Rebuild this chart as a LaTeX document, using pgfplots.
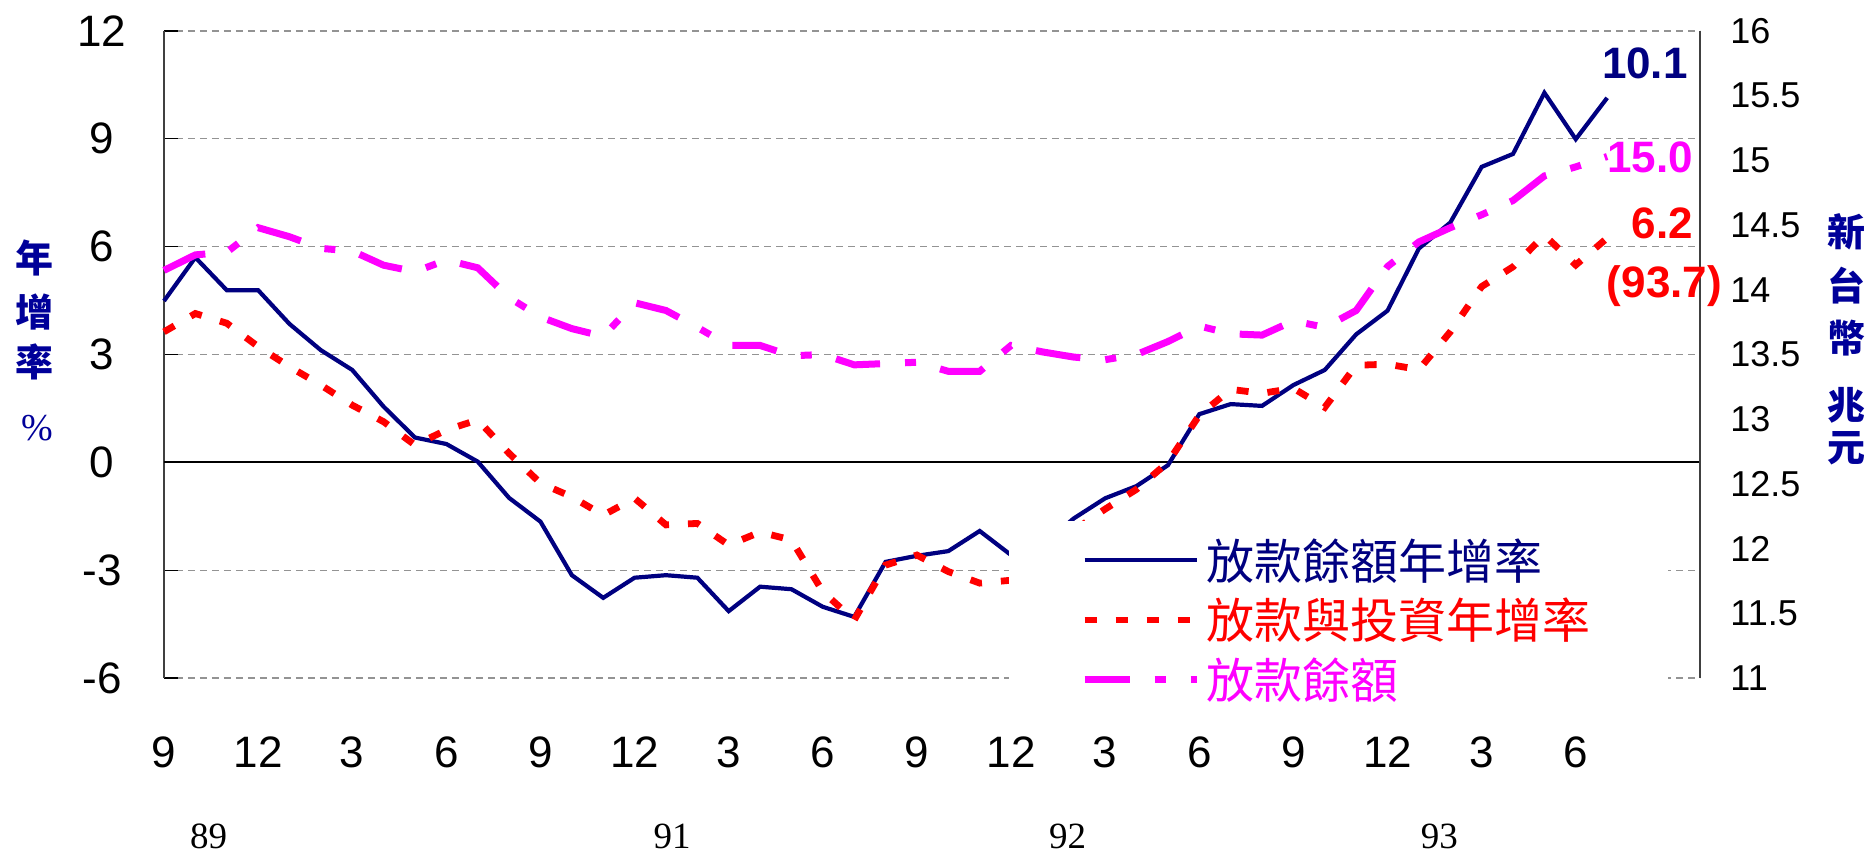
\documentclass[border=0pt]{standalone}
\usepackage{pgfplots}
\pgfplotsset{compat=1.18}
\usepackage{fontspec}
\setmainfont{Liberation Sans}
\newfontfamily\cjk{Noto Sans CJK TC}
\newfontfamily\seriff{Liberation Serif}
\definecolor{navyc}{RGB}{0,0,128}
\definecolor{redc}{RGB}{255,0,0}
\definecolor{magc}{RGB}{255,0,255}
\definecolor{labc}{RGB}{0,0,153}

\pgfplotstableread{
i v
0 4.49
1 5.70
2 4.79
3 4.79
4 3.85
5 3.12
6 2.57
7 1.55
8 0.69
9 0.51
10 0.02
11 -0.99
12 -1.65
13 -3.14
14 -3.77
15 -3.21
16 -3.14
17 -3.21
18 -4.14
19 -3.46
20 -3.53
21 -4.02
22 -4.30
23 -2.77
24 -2.60
25 -2.47
26 -1.91
27 -2.58
28 -2.30
29 -1.56
30 -1.00
31 -0.66
32 -0.08
33 1.34
34 1.62
35 1.57
36 2.15
37 2.57
38 3.56
39 4.22
40 5.95
41 6.67
42 8.22
43 8.58
44 10.28
45 8.99
46 10.14
}\loanrate

\pgfplotstableread{
i v
0 3.63
1 4.14
2 3.87
3 3.22
4 2.66
5 2.15
6 1.59
7 1.13
8 0.48
9 0.90
10 1.18
11 0.25
12 -0.58
13 -0.96
14 -1.47
15 -1.00
16 -1.74
17 -1.70
18 -2.30
19 -1.94
20 -2.16
21 -3.60
22 -4.39
23 -2.86
24 -2.58
25 -3.04
26 -3.36
27 -3.28
28 -2.60
29 -1.90
30 -1.30
31 -0.75
32 0.00
33 1.31
34 2.03
35 1.92
36 2.06
37 1.53
38 2.70
39 2.73
40 2.58
41 3.63
42 4.89
43 5.44
44 6.32
45 5.49
46 6.24
}\invrate

\pgfplotstableread{
i v
0 14.15
1 14.27
2 14.29
3 14.48
4 14.41
5 14.32
6 14.30
7 14.19
8 14.14
9 14.23
10 14.17
11 13.94
12 13.79
13 13.70
14 13.64
15 13.90
16 13.84
17 13.71
18 13.57
19 13.57
20 13.49
21 13.50
22 13.42
23 13.43
24 13.44
25 13.37
26 13.37
27 13.57
28 13.52
29 13.48
30 13.46
31 13.50
32 13.60
33 13.72
34 13.66
35 13.65
36 13.76
37 13.71
38 13.84
39 14.18
40 14.37
41 14.48
42 14.58
43 14.69
44 14.88
45 14.95
46 15.03
}\loanbal

\begin{document}
\begin{tikzpicture}
\begin{axis}[
  at={(0,0)}, anchor=south west,
  scale only axis, width=768pt, height=323.5pt,
  xmin=0, xmax=48.96, ymin=-6, ymax=12,
  axis x line*=bottom, axis y line*=left,
  x axis line style={draw=none},
  y axis line style={black!75, line width=0.6pt},
  xtick={0,3,...,45},
  xticklabels={9,12,3,6,9,12,3,6,9,12,3,6,9,12,3,6},
  xtick style={draw=none},
  xticklabel style={font=\fontsize{22}{22}\selectfont, anchor=center, yshift=-37pt},
  ytick={-6,-3,3,6,9,12},
  yticklabels={-6,-3,3,6,9,12},
  extra y ticks={0}, extra y tick labels={0},
  extra y tick style={major grid style={solid, black, line width=1.1pt}},
  yticklabel style={font=\fontsize{22}{22}\selectfont, anchor=center, xshift=-31pt},
  tick align=inside, major tick length=7pt,
  major tick style={black, line width=0.6pt},
  ymajorgrids,
  major grid style={gray!85, line width=0.6pt, dash pattern=on 3.5pt off 2.5pt},
  clip=false,
]
\addplot[navyc, line width=2.1pt] table[x=i, y=v] {\loanrate};
\addplot[redc, line width=3.4pt, dash pattern=on 6pt off 9.5pt] table[x=i, y=v] {\invrate};

\node[font=\cjk\bfseries\fontsize{19}{19}\selectfont, text=labc] at (axis cs:-4.14,5.68) {年};
\node[font=\cjk\bfseries\fontsize{19}{19}\selectfont, text=labc] at (axis cs:-4.14,4.18) {增};
\node[font=\cjk\bfseries\fontsize{19}{19}\selectfont, text=labc] at (axis cs:-4.14,2.79) {率};
\node[font=\seriff\fontsize{19}{19}\selectfont, text=labc] at (axis cs:-4.05,0.95) {\%};

\node[font=\cjk\bfseries\fontsize{19}{19}\selectfont, text=labc] at (axis cs:53.62,6.41) {新};
\node[font=\cjk\bfseries\fontsize{19}{19}\selectfont, text=labc] at (axis cs:53.62,4.93) {台};
\node[font=\cjk\bfseries\fontsize{19}{19}\selectfont, text=labc] at (axis cs:53.62,3.46) {幣};
\node[font=\cjk\bfseries\fontsize{19}{19}\selectfont, text=labc] at (axis cs:53.62,1.59) {兆};
\node[font=\cjk\bfseries\fontsize{19}{19}\selectfont, text=labc] at (axis cs:53.62,0.40) {元};

\node[font=\seriff\fontsize{18.5}{18.5}\selectfont] at (axis cs:1.42,-10.42) {89};
\node[font=\seriff\fontsize{18.5}{18.5}\selectfont] at (axis cs:16.2,-10.42) {91};
\node[font=\seriff\fontsize{18.5}{18.5}\selectfont] at (axis cs:28.8,-10.42) {92};
\node[font=\seriff\fontsize{18.5}{18.5}\selectfont] at (axis cs:40.65,-10.42) {93};
\end{axis}

\begin{axis}[
  at={(0,0)}, anchor=south west,
  scale only axis, width=768pt, height=323.5pt,
  xmin=0, xmax=48.96, ymin=11, ymax=16,
  axis x line=none, axis y line*=right,
  y axis line style={black!75, line width=0.6pt},
  ytick={11,11.5,...,16},
  yticklabels={11,11.5,12,12.5,13,13.5,14,14.5,15,15.5,16},
  major tick length=0pt,
  yticklabel style={font=\fontsize{18}{18}\selectfont, anchor=west, inner sep=0pt, xshift=15pt},
  clip=false,
  legend style={at={(0.550,0.244)}, anchor=north west, fill=white, draw=none,
    inner xsep=36pt, inner ysep=6pt, row sep=2pt,
    nodes={inner sep=3pt},
    font=\cjk\fontsize{24}{24}\selectfont},
  legend cell align=left,
  legend image code/.code={\draw[#1] (0pt,0pt) -- (56pt,0pt);},
]
\addlegendimage{navyc, line width=2.1pt}
\addlegendimage{redc, line width=3.4pt, dash pattern=on 6pt off 9.5pt}
\addplot[magc, line width=3.5pt, dash pattern=on 22.5pt off 12.5pt on 5.5pt off 12.5pt] table[x=i, y=v] {\loanbal};
\legend{\textcolor{navyc}{放款餘額年增率}, \textcolor{redc}{放款與投資年增率}, \textcolor{magc}{放款餘額}}

\node[anchor=base east, inner sep=0pt, font=\bfseries\fontsize{22}{22}\selectfont, text=navyc] at (axis cs:48.58,15.636) {10.1};
\node[anchor=base east, inner sep=0pt, font=\bfseries\fontsize{22}{22}\selectfont, text=magc] at (axis cs:48.74,14.903) {15.0};
\node[anchor=base east, inner sep=0pt, font=\bfseries\fontsize{22}{22}\selectfont, text=redc] at (axis cs:48.74,14.40) {6.2};
\node[anchor=base east, inner sep=0pt, font=\bfseries\fontsize{22}{22}\selectfont, text=redc] at (axis cs:49.67,13.944) {(93.7)};
\end{axis}
\pgfresetboundingbox
\path[use as bounding box] (-82pt,-89pt) rectangle (852.5pt,339pt);
\end{tikzpicture}
\end{document}
